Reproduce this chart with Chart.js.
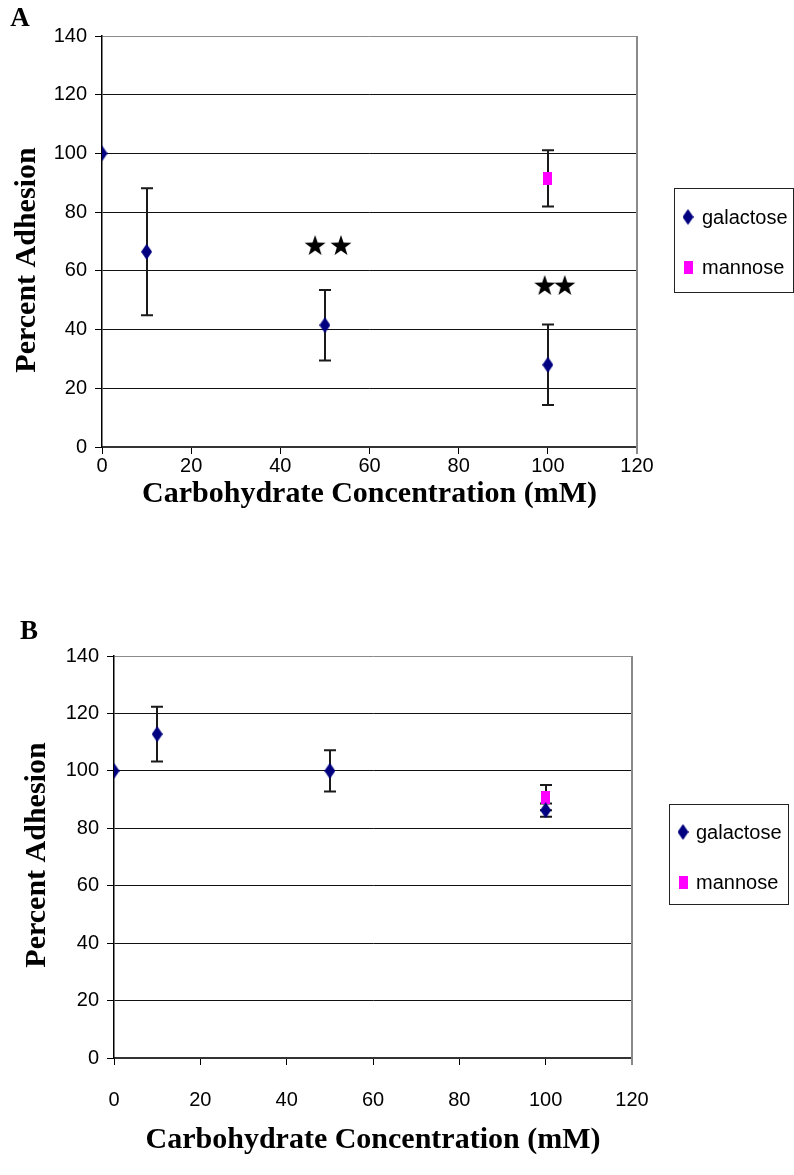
<!DOCTYPE html>
<html><head><meta charset="utf-8">
<script src="https://cdn.jsdelivr.net/npm/chart.js@4.4.0/dist/chart.umd.min.js"></script>
<style>
html,body{margin:0;padding:0;background:#fff;width:794px;height:1175px;overflow:hidden;}
canvas{position:absolute;left:0;}
</style></head><body>
<canvas id="cA" width="794" height="560" style="top:0px"></canvas>
<canvas id="cB" width="794" height="585" style="top:590px"></canvas>
<script>
// ---------- data ----------
const concentrations = [0, 10, 50, 100];
const mannoseConc = [100];
const xTickValues = [0, 20, 40, 60, 80, 100, 120];
const yTickValues = [0, 20, 40, 60, 80, 100, 120, 140];
const seriesNames = ['galactose', 'mannose'];

// Panel A
const galactoseA = [100, 66.5, 41.5, 28];
const galactoseErrA = [0, 21.6, 12, 13.7];
const mannoseA = [91.5];
const mannoseErrA = [9.6];
const starsXA = [47.8, 53.6, 99.3, 103.8];
const starsYA = [68.8, 68.8, 55.2, 55.2];

// Panel B
const galactoseB = [100, 112.8, 100, 86.3];
const galactoseErrB = [0, 9.5, 7.2, 2.3];
const mannoseB = [90.7];
const mannoseErrB = [4.4];

// ---------- marker images ----------
function makeDiamond(w, h, color){
  const c = document.createElement('canvas'); c.width = w; c.height = h;
  const g = c.getContext('2d'); g.fillStyle = color;
  g.beginPath(); g.moveTo(w/2, 0); g.lineTo(w, h/2); g.lineTo(w/2, h); g.lineTo(0, h/2); g.closePath(); g.fill();
  return c;
}
function makeRect(w, h, color){
  const c = document.createElement('canvas'); c.width = w; c.height = h;
  const g = c.getContext('2d'); g.fillStyle = color; g.fillRect(0, 0, w, h);
  return c;
}
function makeStar(R, r, color){
  const s = Math.ceil(R*2)+2;
  const c = document.createElement('canvas'); c.width = s; c.height = s;
  const g = c.getContext('2d'); g.fillStyle = color;
  const cx = s/2, cy = s/2 + R*0.1;
  g.beginPath();
  for (let i = 0; i < 10; i++){
    const rad = (i % 2 === 0) ? R : r;
    const a = -Math.PI/2 + i*Math.PI/5;
    const px = cx + rad*Math.cos(a), py = cy + rad*Math.sin(a);
    if (i === 0) g.moveTo(px, py); else g.lineTo(px, py);
  }
  g.closePath(); g.fill();
  return c;
}
const diamondImg = makeDiamond(11, 16, '#000080');
const squareImg = makeRect(9, 13, '#FF00FF');
const starImg = makeStar(11, 4.4, '#000000');

// ---------- plugins ----------
const errorBarPlugin = {
  id: 'errorBars',
  beforeDatasetsDraw(chart){
    const {ctx} = chart; const x = chart.scales.x, y = chart.scales.y;
    chart.data.datasets.forEach(ds => {
      if (!ds.errors) return;
      ds.data.forEach((p, i) => {
        const e = ds.errors[i]; if (!e) return;
        const px = Math.round(x.getPixelForValue(p.x));
        const top = y.getPixelForValue(p.y + e), bot = y.getPixelForValue(p.y - e);
        ctx.save(); ctx.strokeStyle = '#1a1a1a'; ctx.lineWidth = 2;
        ctx.beginPath();
        ctx.moveTo(px, top); ctx.lineTo(px, bot);
        ctx.moveTo(px - 6, top); ctx.lineTo(px + 6, top);
        ctx.moveTo(px - 6, bot); ctx.lineTo(px + 6, bot);
        ctx.stroke(); ctx.restore();
      });
    });
  }
};

const framePlugin = {
  id: 'frame',
  beforeDatasetsDraw(chart){
    const {ctx, chartArea: ca} = chart;
    ctx.save(); ctx.strokeStyle = '#8a8a8a'; ctx.lineWidth = 2;
    ctx.beginPath(); ctx.moveTo(ca.right, ca.top); ctx.lineTo(ca.right, ca.bottom + 7); ctx.stroke();
    ctx.restore();
  }
};

const panelTextPlugin = {
  id: 'panelText',
  afterDraw(chart, args, o){
    const {ctx, chartArea: ca} = chart;
    ctx.save(); ctx.fillStyle = '#000';
    ctx.textAlign = 'center'; ctx.textBaseline = 'middle';
    ctx.font = 'bold 27px "Liberation Serif", "Times New Roman", serif';
    ctx.fillText(o.letter, o.letterX, o.letterY);
    ctx.font = 'bold 30px "Liberation Serif", "Times New Roman", serif';
    ctx.fillText(o.xTitle, (ca.left + ca.right)/2, o.xTitleY);
    ctx.save(); ctx.translate(o.yTitleX, o.yTitleY); ctx.rotate(-Math.PI/2);
    ctx.fillText(o.yTitle, 0, 0); ctx.restore();
    // legend box
    const L = o.legend;
    ctx.strokeStyle = '#222'; ctx.lineWidth = 1;
    ctx.strokeRect(L.x + 0.5, L.y + 0.5, L.w, L.h);
    ctx.font = '20px "Liberation Sans", Arial, sans-serif';
    ctx.textAlign = 'left'; ctx.textBaseline = 'middle';
    chart.data.datasets.filter(d => d.inLegend).forEach((ds, i) => {
      const cy = L.y + L.rows[i];
      const img = ds.pointStyle;
      ctx.drawImage(img, L.x + L.markerX - img.width/2, cy - img.height/2);
      ctx.fillText(ds.label, L.x + L.textX, cy + 1);
    });
    ctx.restore();
  }
};

// ---------- chart builder ----------
function buildPanel(canvasId, p){
  const galData = concentrations.map((c, i) => ({x: c, y: p.gal[i]}));
  const manData = mannoseConc.map((c, i) => ({x: c, y: p.man[i]}));
  const datasets = [
    {label: seriesNames[0], data: galData, errors: p.galErr, pointStyle: diamondImg, inLegend: true, showLine: false},
    {label: seriesNames[1], data: manData, errors: p.manErr, pointStyle: squareImg, inLegend: true, showLine: false}
  ];
  if (p.starsX) {
    datasets.push({label: 'significance', data: p.starsX.map((v, i) => ({x: v, y: p.starsY[i]})), pointStyle: starImg, inLegend: false, showLine: false});
  }
  return new Chart(document.getElementById(canvasId), {
    type: 'scatter',
    data: {datasets},
    options: {
      responsive: false, animation: false, devicePixelRatio: 1,
      layout: {padding: p.padding},
      plugins: {legend: {display: false}, tooltip: {enabled: false}, panelText: p.text},
      scales: {
        x: {
          type: 'linear', min: 0, max: 120,
          afterBuildTicks: s => { s.ticks = xTickValues.map(v => ({value: v})); },
          afterFit: s => { s.height = p.xAxisH; },
          grid: {drawOnChartArea: false, drawTicks: true, tickLength: 7, tickColor: '#000', tickWidth: 1},
          border: {display: true, color: '#333', width: 2},
          ticks: {color: '#000', padding: p.xTickPad, maxRotation: 0, font: {family: '"Liberation Sans", Arial, sans-serif', size: 20}}
        },
        y: {
          type: 'linear', min: 0, max: 140,
          afterBuildTicks: s => { s.ticks = yTickValues.map(v => ({value: v})); },
          afterFit: s => { s.width = p.yAxisW; },
          grid: {color: c => (c.tick && c.tick.value === 140) ? '#8a8a8a' : '#111', lineWidth: 1, tickLength: 7, tickColor: '#000'},
          border: {display: true, color: '#000', width: 1.5},
          ticks: {color: '#000', padding: 8, font: {family: '"Liberation Sans", Arial, sans-serif', size: 20}}
        }
      },
      elements: {point: {radius: 6, hoverRadius: 6}}
    },
    plugins: [framePlugin, errorBarPlugin, panelTextPlugin]
  });
}

buildPanel('cA', {
  gal: galactoseA, galErr: galactoseErrA, man: mannoseA, manErr: mannoseErrA,
  starsX: starsXA, starsY: starsYA,
  padding: {left: 8, right: 157, top: 36, bottom: 49},
  yAxisW: 94, xAxisH: 64, xTickPad: 0,
  text: {letter: 'A', letterX: 20, letterY: 19, xTitle: 'Carbohydrate Concentration (mM)', xTitleY: 494,
         yTitle: 'Percent Adhesion', yTitleX: 27, yTitleY: 260,
         legend: {x: 674, y: 188, w: 119, h: 104, rows: [29, 79], markerX: 14, textX: 28}}
});

buildPanel('cB', {
  gal: galactoseB, galErr: galactoseErrB, man: mannoseB, manErr: mannoseErrB,
  padding: {left: 8, right: 162, top: 66, bottom: 18},
  yAxisW: 106, xAxisH: 99, xTickPad: 23,
  text: {letter: 'B', letterX: 29, letterY: 42, xTitle: 'Carbohydrate Concentration (mM)', xTitleY: 550,
         yTitle: 'Percent Adhesion', yTitleX: 37, yTitleY: 265,
         legend: {x: 669, y: 214, w: 119, h: 100, rows: [28, 78], markerX: 14, textX: 27}}
});
</script>
</body></html>
